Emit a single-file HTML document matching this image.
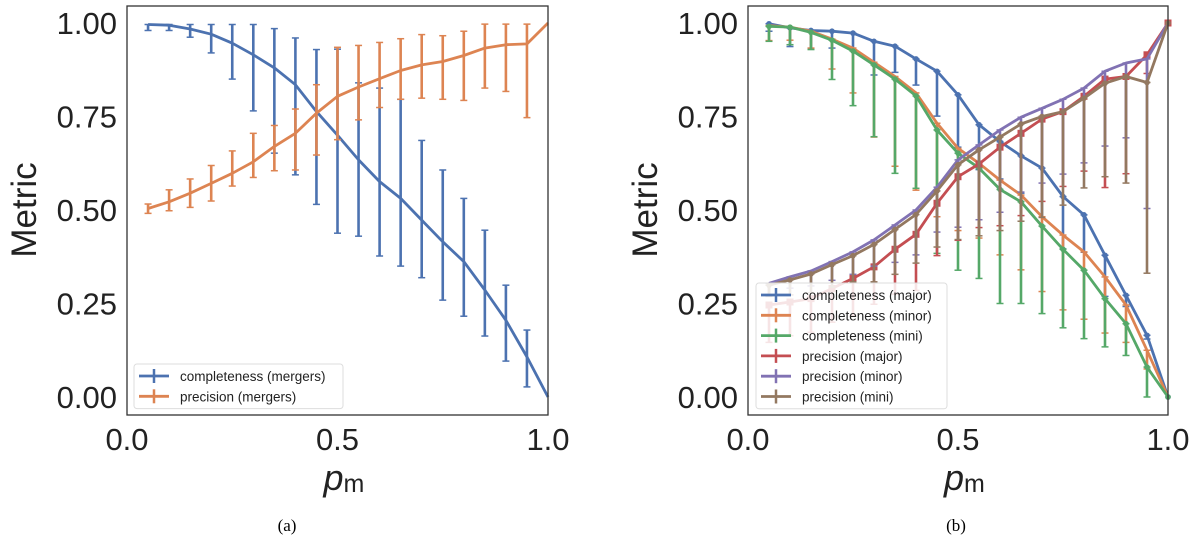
<!DOCTYPE html>
<html><head><meta charset="utf-8"><style>
body{margin:0;background:#fff;}
svg{display:block;}
text{font-family:"Liberation Sans",sans-serif;}
</style></head><body>
<svg id="fig" width="1200" height="548" viewBox="0 0 1200 548"></svg>
<script>
const xs=[0.05,0.1,0.15,0.2,0.25,0.3,0.35,0.4,0.45,0.5,0.55,0.6,0.65,0.7,0.75,0.8,0.85,0.9,0.95,1.0];
const yTicks=[0,0.25,0.5,0.75,1.0];
const yTickLabels=["0.00","0.25","0.50","0.75","1.00"];
const xTicks=[0,0.5,1.0];
const xTickLabels=["0.0","0.5","1.0"];
// panel a
const compMergers=[0.996,0.994,0.984,0.970,0.946,0.915,0.880,0.835,0.763,0.700,0.634,0.576,0.531,0.473,0.415,0.362,0.286,0.205,0.107,0];
const compMergersHi=[0.996,0.996,0.996,0.996,0.996,0.996,0.985,0.960,0.929,0.93,0.84,0.826,0.796,0.686,0.607,0.531,0.446,0.299,0.179,0];
const compMergersLo=[0.980,0.980,0.962,0.920,0.850,0.765,0.652,0.594,0.515,0.438,0.430,0.377,0.350,0.319,0.259,0.216,0.163,0.096,0.027,0];
const precMergers=[0.504,0.522,0.545,0.571,0.598,0.629,0.670,0.705,0.759,0.804,0.829,0.851,0.873,0.888,0.897,0.913,0.933,0.942,0.944,1.0];
const precMergersHi=[0.516,0.554,0.583,0.619,0.658,0.705,0.726,0.770,0.835,0.935,0.940,0.948,0.958,0.969,0.966,0.978,0.997,0.997,0.997,1.0];
const precMergersLo=[0.491,0.498,0.507,0.524,0.564,0.587,0.605,0.607,0.647,0.688,0.741,0.774,0.796,0.799,0.796,0.793,0.826,0.817,0.747,1.0];
// panel b (values)
const compMajor=[0.998,0.987,0.980,0.978,0.973,0.951,0.938,0.904,0.871,0.808,0.728,0.683,0.645,0.612,0.536,0.487,0.379,0.272,0.165,0];
const compMinor=[0.993,0.989,0.978,0.957,0.933,0.895,0.857,0.813,0.732,0.665,0.625,0.580,0.540,0.482,0.433,0.388,0.321,0.246,0.125,0];
const compMini=[0.991,0.989,0.975,0.954,0.925,0.888,0.850,0.805,0.714,0.652,0.612,0.555,0.522,0.457,0.395,0.339,0.263,0.196,0.080,0];
const precMajor=[0.246,0.254,0.263,0.290,0.317,0.348,0.395,0.435,0.518,0.589,0.623,0.668,0.705,0.743,0.763,0.804,0.850,0.857,0.915,1.0];
const precMinor=[0.304,0.321,0.337,0.362,0.388,0.420,0.460,0.500,0.561,0.634,0.674,0.714,0.748,0.772,0.796,0.826,0.871,0.893,0.904,1.0];
const precMini=[0.299,0.313,0.329,0.354,0.378,0.408,0.448,0.488,0.551,0.621,0.661,0.695,0.730,0.750,0.763,0.799,0.839,0.857,0.841,1.0];
const errCompMajor=[0.02,0.05,0.05,0.045,0.045,0.09,0.07,0.07,0.12,0.14,0.12,0.1,0.1,0.13,0.14,0.1,0.11,0.03,0.01,0];
const errCompMinor=[0.04,0.035,0.045,0.08,0.12,0.2,0.24,0.26,0.25,0.22,0.2,0.2,0.2,0.2,0.2,0.18,0.15,0.1,0.05,0];
const errCompMini=[0.04,0.047,0.046,0.105,0.146,0.192,0.252,0.247,0.33,0.313,0.295,0.305,0.272,0.234,0.21,0.183,0.129,0.085,0.08,0];
const errPrecMajor=[0.1,0.09,0.09,0.09,0.1,0.1,0.12,0.15,0.14,0.17,0.17,0.21,0.22,0.22,0.2,0.2,0.29,0.26,0.05,0];
const errPrecMinor=[0.03,0.03,0.04,0.05,0.06,0.07,0.1,0.12,0.12,0.18,0.2,0.22,0.2,0.2,0.2,0.2,0.2,0.2,0.4,0];
const errPrecMini=[0.03,0.04,0.05,0.06,0.07,0.1,0.12,0.13,0.15,0.2,0.23,0.25,0.26,0.27,0.25,0.24,0.25,0.285,0.51,0];

const NS="http://www.w3.org/2000/svg";
const svg=document.getElementById('fig');
function mk(tag,attrs,parent){const e=document.createElementNS(NS,tag);for(const k in attrs)e.setAttribute(k,attrs[k]);(parent||svg).appendChild(e);return e;}
const Y0=397,Y1=23;
function yS(v){return Y0+(Y1-Y0)*v;}
function clip(v){return Math.max(-0.04,Math.min(1.0,v));}

function panel(left,right,name,caption,capX){
  const g=mk('g',{});
  
  
  const xS=v=>left+(right-left)*v;
  yTicks.forEach((t,i)=>{const tx=mk('text',{x:left-10,y:yS(t)+11,'text-anchor':'end','font-size':31,fill:'#222'},g);tx.textContent=yTickLabels[i];
    
    });
  xTicks.forEach((t,i)=>{const tx=mk('text',{x:xS(t),y:450,'text-anchor':'middle','font-size':31,fill:'#222'},g);tx.textContent=xTickLabels[i];
    
    });
  const yl=mk('text',{x:0,y:0,transform:`translate(${left-91},210) rotate(-90)`,'text-anchor':'middle','font-size':35,fill:'#222'},g);
  yl.textContent='Metric';
  
  
  const xl=mk('text',{x:(left+right)/2-14,y:490,'font-size':36,fill:'#222'},g);
  xl.innerHTML='<tspan font-style="italic">p</tspan><tspan font-size="25" dy="2">m</tspan>';
  
  
  const cp=mk('text',{x:capX,y:531,'text-anchor':'middle','font-size':17,fill:'#000',style:'font-family:"Liberation Serif",serif'},g);
  cp.textContent=caption;
  
  
  return {g,xS};
}
function series(p,vals,lo,hi,color,name,marker){
  const g=mk('g',{},p.g);
  
  
  xs.forEach((x,i)=>{
    const px=p.xS(x),a=yS(clip(hi[i])),b=yS(clip(lo[i]));
    if(Math.abs(a-b)<0.5)return;
    mk('line',{x1:px,x2:px,y1:a,y2:b,stroke:color,'stroke-width':2.6},g);
    mk('line',{x1:px-3.5,x2:px+3.5,y1:a,y2:a,stroke:color,'stroke-width':1.5},g);
    mk('line',{x1:px-3.5,x2:px+3.5,y1:b,y2:b,stroke:color,'stroke-width':1.5},g);
  });
  const d=xs.map((x,i)=>(i?'L':'M')+p.xS(x).toFixed(1)+','+yS(vals[i]).toFixed(1)).join('');
  mk('path',{d,fill:'none',stroke:color,'stroke-width':2.8,'stroke-linejoin':'round'},g);
  if(marker){xs.forEach((x,i)=>{
    if(marker==='s')mk('rect',{x:p.xS(x)-3.5,y:yS(vals[i])-3.5,width:7,height:7,fill:color},g);
    else mk('circle',{cx:p.xS(x),cy:yS(vals[i]),r:2.8,fill:color},g);});}
}
function sym(vals,err,s){return vals.map((v,i)=>v+s*err[i]);}
function frame(p,l,r){mk('rect',{x:l,y:6,width:r-l,height:409,fill:'none',stroke:'#333','stroke-width':1.3},p.g);}
function legend(p,x,y,w,entries){
  const g=mk('g',{},p.g);
  
  
  mk('rect',{x,y,width:w,height:entries.length*20.3+4,fill:'#fff','fill-opacity':0.85,stroke:'#ddd',rx:3},g);
  entries.forEach((e,i)=>{const cy=y+12+i*20.3;
    const eg=mk('g',{},g);
    
    
    mk('line',{x1:x+5,x2:x+35,y1:cy,y2:cy,stroke:e[1],'stroke-width':2.8},eg);
    mk('line',{x1:x+20,x2:x+20,y1:cy-7,y2:cy+7,stroke:e[1],'stroke-width':2.5},eg);
    const t=mk('text',{x:x+46,y:cy+5,'font-size':13.5,fill:'#222'},eg);t.textContent=e[0];});
}
const C={b:'#4c72b0',o:'#dd8452',g:'#55a868',r:'#c44e52',p:'#8172b3',br:'#937860'};
const pa=panel(127,548,'panel-a','(a)',287);
series(pa,compMergers,compMergersLo,compMergersHi,C.b,'completeness-mergers-series');
series(pa,precMergers,precMergersLo,precMergersHi,C.o,'precision-mergers-series');
frame(pa,127,548);
legend(pa,134,364,209,[['completeness (mergers)',C.b],['precision (mergers)',C.o]]);
const pb=panel(748,1168,'panel-b','(b)',956);
[[compMajor,errCompMajor,C.b,'completeness-major-series','o'],[compMinor,errCompMinor,C.o,'completeness-minor-series',''],[compMini,errCompMini,C.g,'completeness-mini-series','o'],
 [precMajor,errPrecMajor,C.r,'precision-major-series','s'],[precMinor,errPrecMinor,C.p,'precision-minor-series',''],[precMini,errPrecMini,C.br,'precision-mini-series','o']]
 .forEach(s=>series(pb,s[0],sym(s[0],s[1],-1),s[0],s[2],s[3],s[4]));
frame(pb,748,1168);
legend(pb,756,283,191,[['completeness (major)',C.b],['completeness (minor)',C.o],['completeness (mini)',C.g],['precision (major)',C.r],['precision (minor)',C.p],['precision (mini)',C.br]]);
</script>
</body></html>
